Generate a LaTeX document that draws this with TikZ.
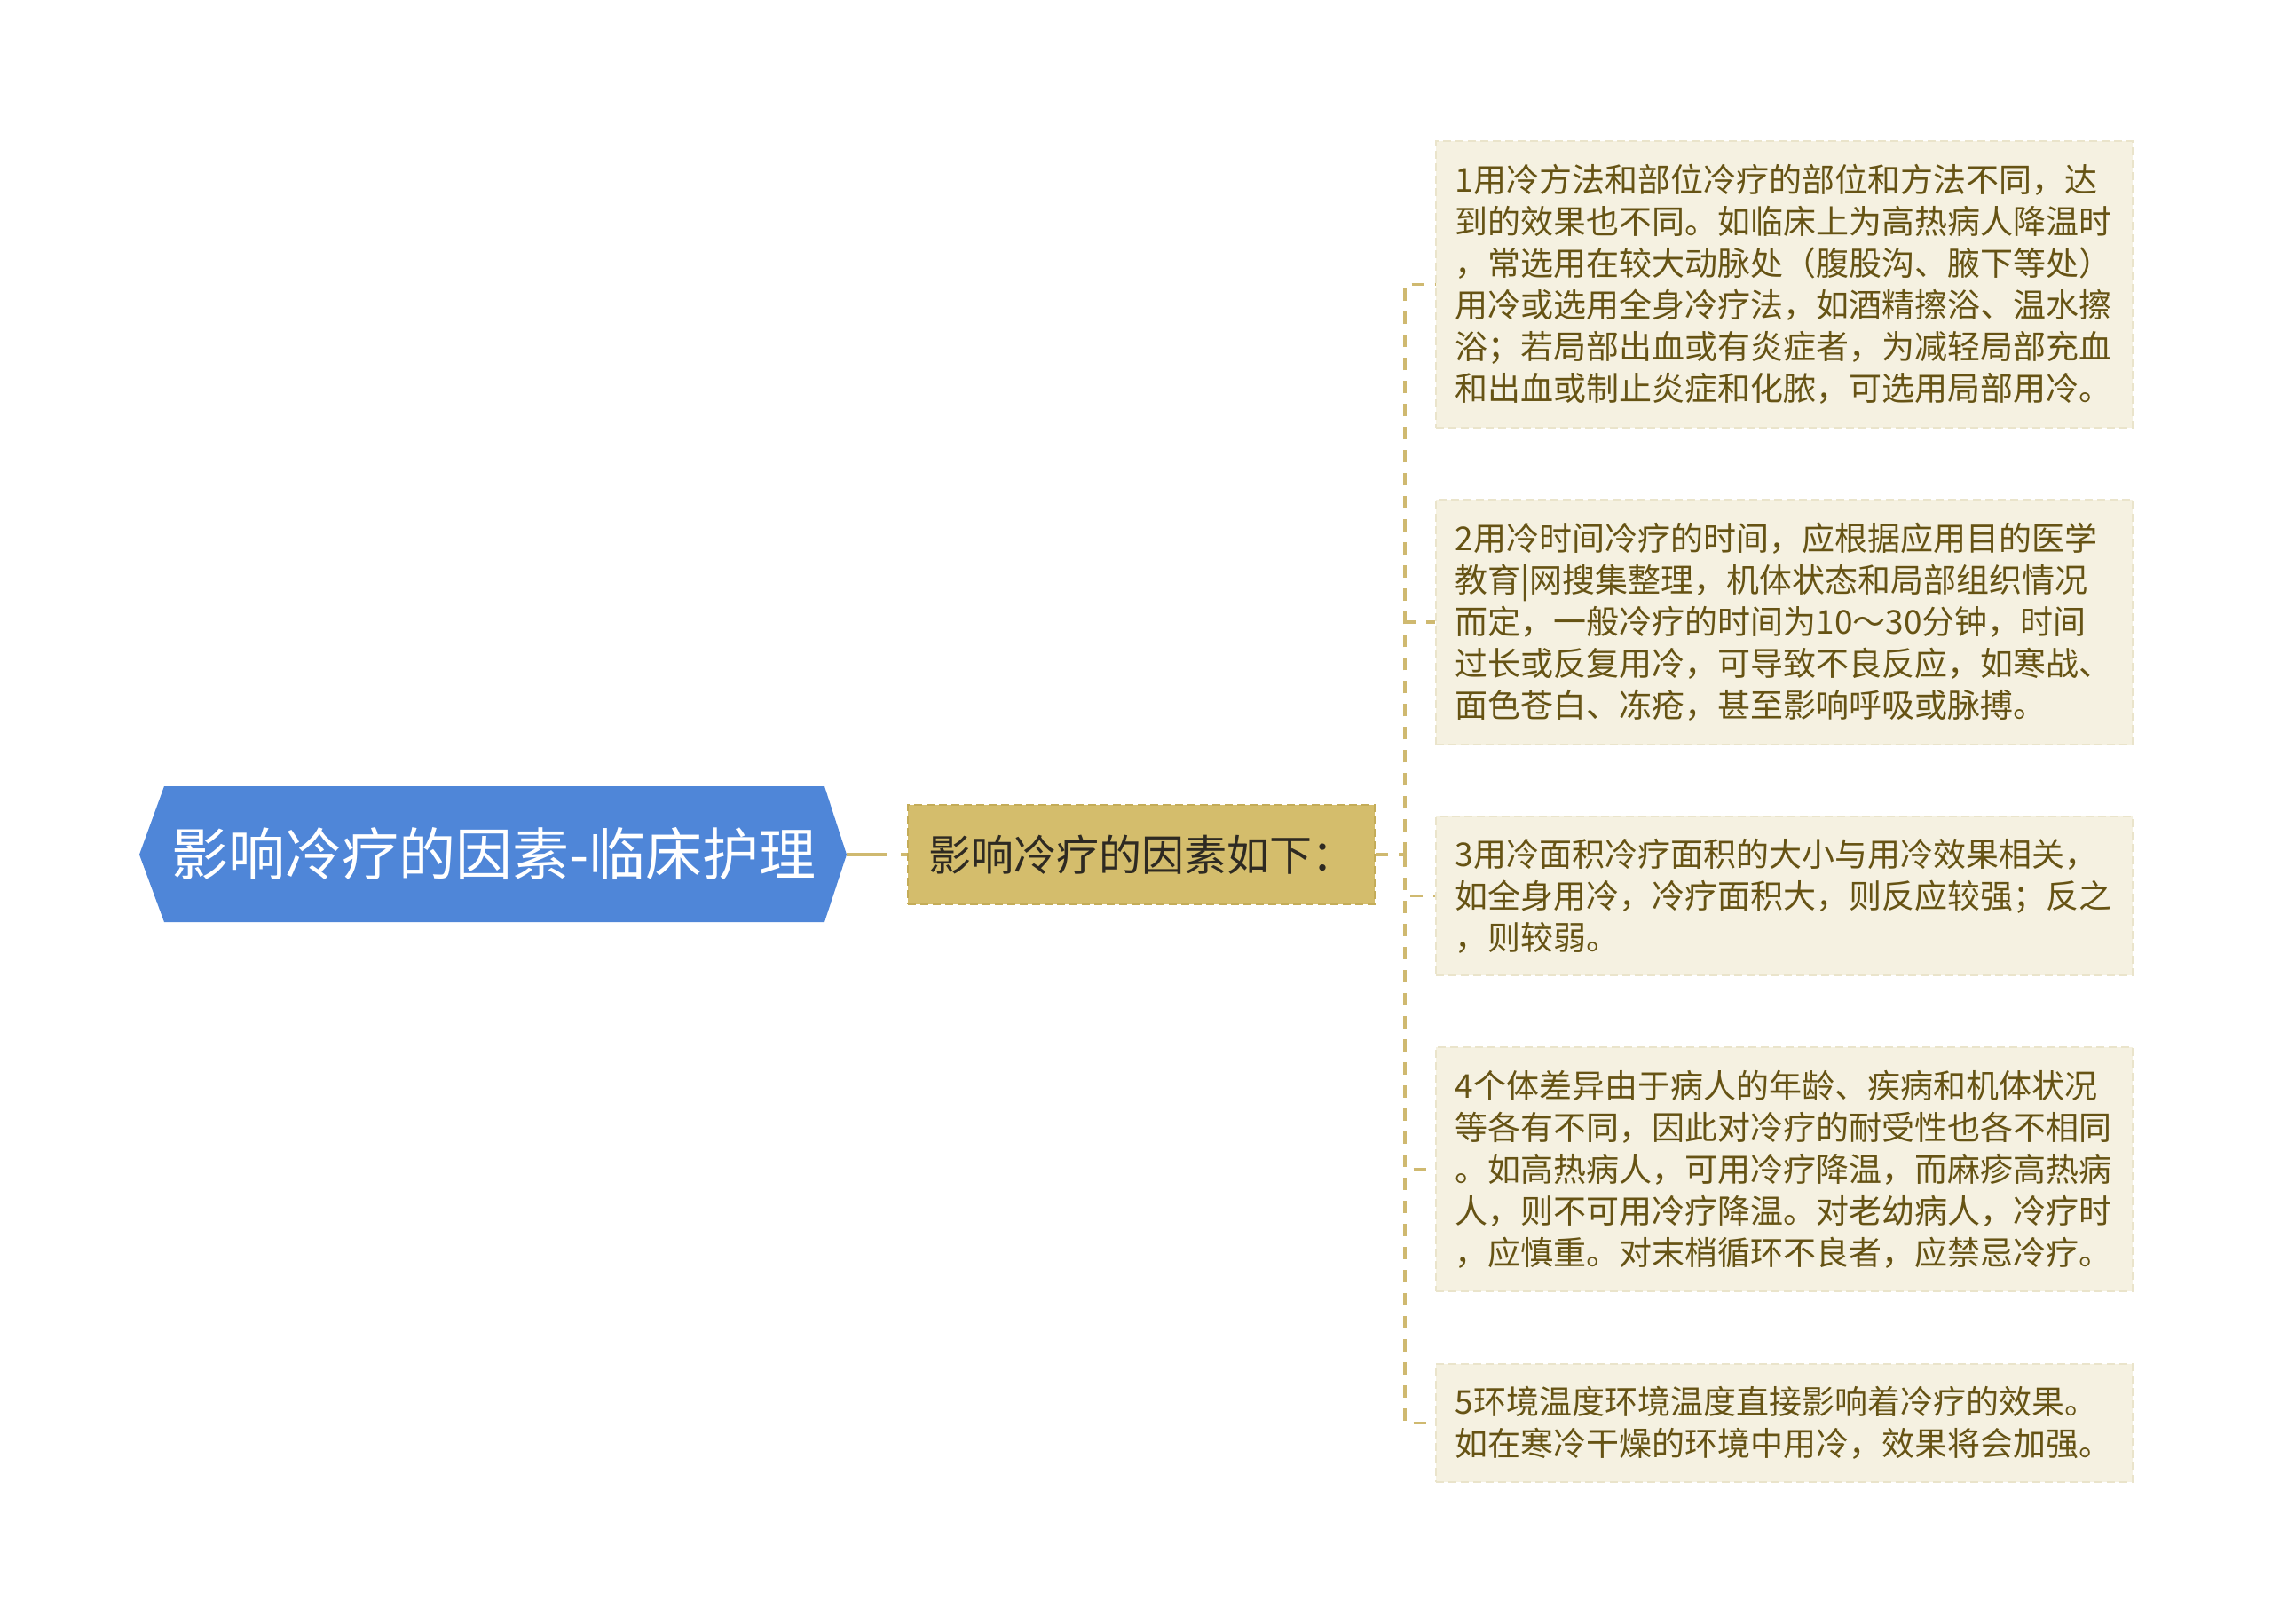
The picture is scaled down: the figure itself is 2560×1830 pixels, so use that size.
\documentclass[tikz,border=0pt]{standalone}
\usepackage{fontspec}
\setmainfont{Noto Sans CJK SC}
\usetikzlibrary{positioning}

\definecolor{rootblue}{HTML}{4F86D8}
\definecolor{midtan}{HTML}{D4BD6C}
\definecolor{midedge}{HTML}{C4AC58}
\definecolor{midtext}{HTML}{2E2A22}
\definecolor{linktan}{HTML}{CFB970}
\definecolor{leaffill}{HTML}{F5F1E1}
\definecolor{leafedge}{HTML}{EAE4CB}
\definecolor{leaftext}{HTML}{665314}

\tikzset{
	link/.style={draw=linktan,line width=3.5pt,dash pattern=on 14pt off 12pt},
	roottext/.style={text=white,inner sep=0pt,font=\fontsize{64}{70}\selectfont},
	midbox/.style={fill=midtan,draw=midedge,line width=2pt,dash pattern=on 9pt off 5pt,
		text=midtext,inner sep=0pt,minimum width=526pt,minimum height=112pt,
		font=\fontsize{48}{56}\selectfont},
	leafbox/.style={fill=leaffill,draw=leafedge,line width=1.5pt,dash pattern=on 9pt off 5pt,
		text=leaftext,align=left,text width=741pt,inner xsep=22pt,inner ysep=0pt,anchor=west,
		font=\fontsize{37}{47}\selectfont}
}

\begin{document}
\begin{tikzpicture}[x=1pt,y=-1pt]
	\useasboundingbox (0,0) rectangle (2560,1830);
	\fill[white] (0,0) rectangle (2560,1830);

	% root
	\coordinate (rootW) at (157,963);
	\coordinate (rootE) at (954,963);
	\fill[rootblue] (rootW) -- (185,886) -- (929,886) -- (rootE) -- (929,1039) -- (185,1039) -- cycle;
	\node [roottext] (root) at (556.5,962.5) {影响冷疗的因素-临床护理};

	% middle
	\node [midbox] (mid) at (1286,963) {影响冷疗的因素如下：};

	% leaves
	\node [leafbox,minimum height=323pt] (leaf1) at (1617,320.5)
	{
		1用冷方法和部位冷疗的部位和方法不同，达\\
		到的效果也不同。如临床上为高热病人降温时\\
		，常选用在较大动脉处（腹股沟、腋下等处）\\
		用冷或选用全身冷疗法，如酒精擦浴、温水擦\\
		浴；若局部出血或有炎症者，为减轻局部充血\\
		和出血或制止炎症和化脓，可选用局部用冷。
	};
	\node [leafbox,minimum height=276pt] (leaf2) at (1617,701)
	{
		2用冷时间冷疗的时间，应根据应用目的医学\\
		教育|网搜集整理，机体状态和局部组织情况\\
		而定，一般冷疗的时间为10～30分钟，时间\\
		过长或反复用冷，可导致不良反应，如寒战、\\
		面色苍白、冻疮，甚至影响呼吸或脉搏。
	};
	\node [leafbox,minimum height=179pt] (leaf3) at (1617,1009.5)
	{
		3用冷面积冷疗面积的大小与用冷效果相关，\\
		如全身用冷，冷疗面积大，则反应较强；反之\\
		，则较弱。
	};
	\node [leafbox,minimum height=275pt] (leaf4) at (1617,1317.5)
	{
		4个体差异由于病人的年龄、疾病和机体状况\\
		等各有不同，因此对冷疗的耐受性也各不相同\\
		。如高热病人，可用冷疗降温，而麻疹高热病\\
		人，则不可用冷疗降温。对老幼病人，冷疗时\\
		，应慎重。对末梢循环不良者，应禁忌冷疗。
	};
	\node [leafbox,minimum height=133pt] (leaf5) at (1617,1603.5)
	{
		5环境温度环境温度直接影响着冷疗的效果。\\
		如在寒冷干燥的环境中用冷，效果将会加强。
	};

	% connectors
	\coordinate (spine) at (1583,963);
	\draw [link,dash pattern=on 46pt off 15pt] (rootE) -- (mid.west);
	\draw [link] (mid.east) -- (spine);
	\foreach \i in {1,...,5}
		\draw [link] (spine) |- (leaf\i.west);

\end{tikzpicture}
\end{document}
